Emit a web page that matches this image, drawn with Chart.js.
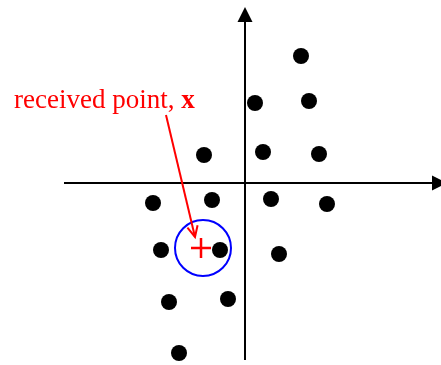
<!DOCTYPE html>
<html>
<head>
<meta charset="utf-8">
<script src="https://cdn.jsdelivr.net/npm/chart.js@4"></script>
<style>
  html, body { margin: 0; padding: 0; background: #fff; }
  canvas { display: block; }
</style>
</head>
<body>
<canvas id="sigChart" width="441" height="365"></canvas>
<script>
// signal constellation points (x, y), axis origin at 0,0
const pointX = [5.6, 1.0, 6.4, -4.1, 1.8, 7.4, -9.2, -3.3, 2.6, 8.2, -8.4, -2.5, 3.4, -7.6, -1.7, -6.6];
const pointY = [12.7, 8.0, 8.2, 2.8, 3.1, 2.9, -2.0, -1.7, -1.6, -2.1, -6.7, -6.7, -7.1, -11.9, -11.6, -17.0];

// received point and decision circle
const received = [-4.4, -6.5];
const circleCenter = [-4.2, -6.5];

// axis extents
const xAxisRange = [-18.1, 20.2];
const yAxisRange = [-17.7, 17.6];

// label + arrow
const labelText = 'received point, ';
const labelVar = 'x';
const labelPos = [-23.1, 7.5];
const arrowFrom = [-7.9, 6.8];
const arrowTo = [-5.0, -5.4];

const pts = pointX.map((x, i) => ({ x: x, y: pointY[i] }));

const axesPlugin = {
    id: 'axes',
    beforeDatasetsDraw(chart) {
        const c = chart.ctx;
        const xs = chart.scales.x, ys = chart.scales.y;
        const ox = xs.getPixelForValue(0), oy = ys.getPixelForValue(0);
        c.save();
        c.strokeStyle = '#000';
        c.fillStyle = '#000';
        c.lineWidth = 2;
        // horizontal axis
        let x0 = xs.getPixelForValue(xAxisRange[0]);
        let x1 = xs.getPixelForValue(xAxisRange[1]);
        c.beginPath();
        c.moveTo(x0, oy);
        c.lineTo(x1 - 12, oy);
        c.stroke();
        c.beginPath();
        c.moveTo(x1, oy);
        c.lineTo(x1 - 15, oy - 7.5);
        c.lineTo(x1 - 15, oy + 7.5);
        c.closePath();
        c.fill();
        // vertical axis
        let y0 = ys.getPixelForValue(yAxisRange[0]);
        let y1 = ys.getPixelForValue(yAxisRange[1]);
        c.beginPath();
        c.moveTo(ox, y0);
        c.lineTo(ox, y1 + 12);
        c.stroke();
        c.beginPath();
        c.moveTo(ox, y1);
        c.lineTo(ox - 7.5, y1 + 15);
        c.lineTo(ox + 7.5, y1 + 15);
        c.closePath();
        c.fill();
        c.restore();
    },
    afterDraw(chart) {
        const c = chart.ctx;
        const xs = chart.scales.x, ys = chart.scales.y;
        c.save();
        c.fillStyle = '#ff0000';
        c.strokeStyle = '#ff0000';
        c.textBaseline = 'alphabetic';
        const tx = xs.getPixelForValue(labelPos[0]);
        const ty = ys.getPixelForValue(labelPos[1]);
        c.font = '27px "Liberation Serif", "Times New Roman", serif';
        c.fillText(labelText, tx, ty);
        const w = c.measureText(labelText).width;
        c.font = 'bold 27px "Liberation Serif", "Times New Roman", serif';
        c.fillText(labelVar, tx + w, ty);
        // arrow
        const ax = xs.getPixelForValue(arrowFrom[0]), ay = ys.getPixelForValue(arrowFrom[1]);
        const bx = xs.getPixelForValue(arrowTo[0]), by = ys.getPixelForValue(arrowTo[1]);
        c.lineWidth = 2;
        c.beginPath();
        c.moveTo(ax, ay);
        c.lineTo(bx, by);
        c.stroke();
        const ang = Math.atan2(by - ay, bx - ax);
        const hl = 12, spread = 0.45;
        c.beginPath();
        c.moveTo(bx - hl * Math.cos(ang - spread), by - hl * Math.sin(ang - spread));
        c.lineTo(bx, by);
        c.lineTo(bx - hl * Math.cos(ang + spread), by - hl * Math.sin(ang + spread));
        c.stroke();
        c.restore();
    }
};

new Chart(document.getElementById('sigChart'), {
    type: 'scatter',
    data: {
        datasets: [{
            label: 'points',
            data: pts,
            pointRadius: 8,
            pointHoverRadius: 8,
            backgroundColor: '#000',
            borderWidth: 0,
            clip: false
        }, {
            label: 'circle',
            data: [{ x: circleCenter[0], y: circleCenter[1] }],
            pointRadius: 28,
            pointHoverRadius: 28,
            pointStyle: 'circle',
            backgroundColor: 'rgba(0,0,0,0)',
            borderColor: '#0000ff',
            borderWidth: 2,
            clip: false
        }, {
            label: 'received',
            data: [{ x: received[0], y: received[1] }],
            pointRadius: 10,
            pointHoverRadius: 10,
            pointStyle: 'cross',
            borderColor: '#ff0000',
            borderWidth: 2.5,
            clip: false
        }]
    },
    options: {
        responsive: false,
        animation: false,
        events: [],
        layout: { padding: 0, autoPadding: false },
        plugins: { legend: { display: false }, tooltip: { enabled: false } },
        scales: {
            x: { type: 'linear', min: -24.5, max: 19.6, display: false },
            y: { type: 'linear', min: -18.2, max: 18.3, display: false }
        }
    },
    plugins: [axesPlugin]
});
</script>
</body>
</html>
